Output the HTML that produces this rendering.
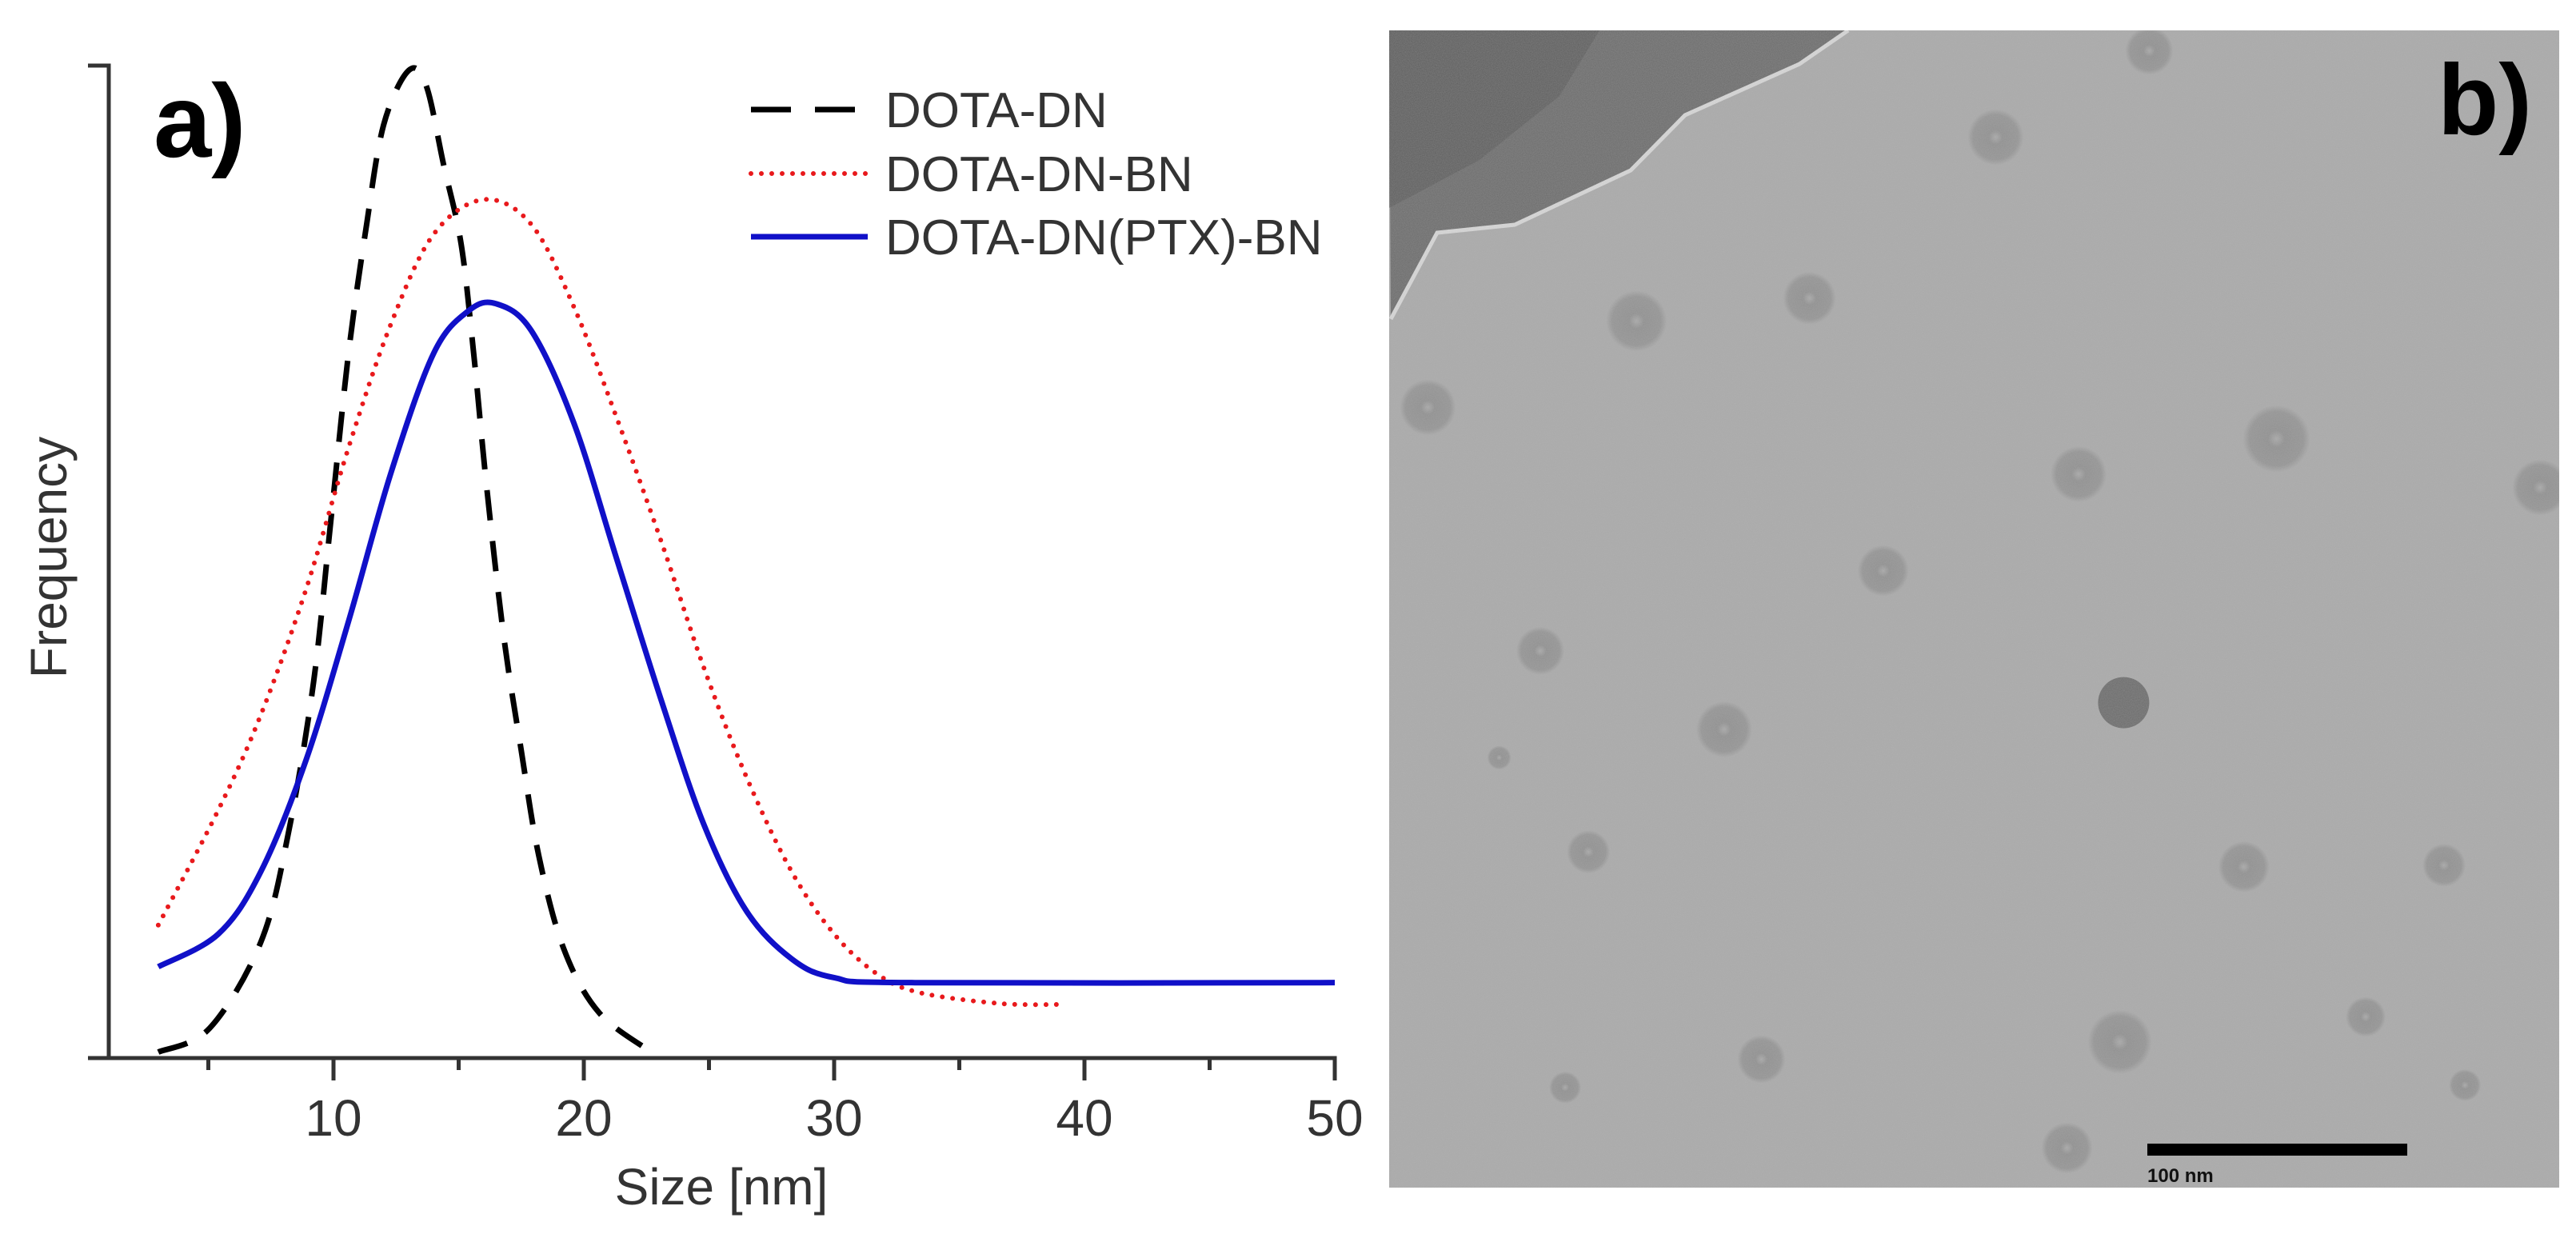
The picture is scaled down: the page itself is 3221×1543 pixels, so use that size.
<!DOCTYPE html>
<html><head><meta charset="utf-8"><style>
html,body{margin:0;padding:0;background:#fff;}
body{width:3221px;height:1538px;overflow:hidden;}
svg text{font-family:"Liberation Sans",sans-serif;}
</style></head><body>
<svg id="fig" width="3221" height="1538" viewBox="0 0 3221 1538" xmlns="http://www.w3.org/2000/svg">
<defs>
<filter id="noise" x="0" y="0" width="100%" height="100%">
<feTurbulence type="fractalNoise" baseFrequency="0.9" numOctaves="2" seed="3" result="t"/>
<feColorMatrix type="matrix" values="0 0 0 0 0.5  0 0 0 0 0.5  0 0 0 0 0.5  0 0 0 0.35 0"/>
</filter>
<radialGradient id="part" cx="0.5" cy="0.5" r="0.5">
<stop offset="0" stop-color="#a8a8a8"/><stop offset="0.25" stop-color="#8a8a8a"/><stop offset="0.8" stop-color="#8f8f8f"/><stop offset="1" stop-color="#a9a9a9"/>
</radialGradient>
<clipPath id="temclip"><rect x="1737" y="38" width="1463" height="1447"/></clipPath>
</defs>
<g id="chart"></g>
<g id="tem" clip-path="url(#temclip)">
<rect x="1737" y="38" width="1463" height="1447" fill="#a9a9a9"/>
<polygon points="1737,38 2311,38 2250,80 2107,144 2039,213 1894,281 1797,291 1739,399" fill="#6a6a6a"/>
<polygon points="1737,38 2000,38 1950,120 1850,200 1737,260" fill="#555" opacity="0.6"/>
<polyline points="2311,38 2250,80 2107,144 2039,213 1894,281 1797,291 1739,399" fill="none" stroke="#d8d8d8" stroke-width="5"/>
<g id="particles"></g>
<rect x="1737" y="38" width="1463" height="1447" filter="url(#noise)"/>
</g>
<rect x="2685" y="1430" width="325" height="15" fill="#000"/>
<text x="2685" y="1478" font-size="24" font-weight="bold" fill="#111">100 nm</text>
<text x="3048" y="168" font-size="125" font-weight="bold" fill="#000">b)</text>
</svg>
<script>
const ticks = [10, 20, 30, 40, 50];
const minorTicks = [5, 15, 25, 35, 45];
const dnX = [3, 5.05, 7.1, 8.2, 9.2, 9.9, 10.6, 11.3, 12.0, 13.0, 13.7, 14.4, 15.1, 15.6, 16.1, 16.8, 17.5, 18.2, 19.2, 20.6, 22.7];
const dnY = [0.006, 0.03, 0.117, 0.227, 0.378, 0.543, 0.71, 0.836, 0.94, 0.995, 0.98, 0.9, 0.82, 0.71, 0.58, 0.425, 0.31, 0.204, 0.11, 0.046, 0.006];
const bnX = [3.0, 5.4, 7.1, 8.9, 10.6, 12.3, 14.0, 16.0, 17.9, 19.6, 21.3, 23.1, 24.8, 26.5, 28.3, 30.0, 31.7, 33.4, 36.6, 39.0];
const bnY = [0.134, 0.25, 0.346, 0.472, 0.615, 0.74, 0.83, 0.865, 0.84, 0.757, 0.646, 0.52, 0.393, 0.283, 0.188, 0.125, 0.085, 0.066, 0.055, 0.054];
const ptxX = [3.0, 5.4, 7.1, 8.9, 10.6, 12.3, 14.0, 15.4, 16.5, 17.9, 19.6, 21.3, 23.1, 24.8, 26.5, 28.3, 30.0, 33.1, 50];
const ptxY = [0.092, 0.125, 0.188, 0.3, 0.44, 0.59, 0.71, 0.753, 0.76, 0.733, 0.64, 0.504, 0.36, 0.235, 0.148, 0.10, 0.081, 0.076, 0.076];
const seriesNames = ["DOTA-DN", "DOTA-DN-BN", "DOTA-DN(PTX)-BN"];

const NS = "http://www.w3.org/2000/svg";
const X0 = 104, PXU = 31.3, YB = 1323, YH = 1241;
const sx = v => X0 + v * PXU;
const sy = v => YB - v * YH;
const g = document.getElementById('chart');
function mk(tag, attrs, parent) {
  const e = document.createElementNS(NS, tag);
  for (const k in attrs) e.setAttribute(k, attrs[k]);
  (parent || g).appendChild(e);
  return e;
}
let e;
e = mk('path', {d: `M110 82 H136 V${YB} H${sx(50)} V${YB+27}`, fill: 'none', stroke: '#333', 'stroke-width': 5});


e = mk('line', {x1: 110, y1: YB, x2: 136, y2: YB, stroke: '#333', 'stroke-width': 5});


ticks.forEach(t => {
  const l = mk('line', {x1: sx(t), y1: YB, x2: sx(t), y2: YB + 28, stroke: '#333', 'stroke-width': 5});
  
  
  const tx = mk('text', {x: sx(t), y: YB + 97, 'font-size': 64, 'text-anchor': 'middle', fill: '#333'});
  tx.textContent = t;
  
  
});
minorTicks.forEach(t => {
  const l = mk('line', {x1: sx(t), y1: YB, x2: sx(t), y2: YB + 15, stroke: '#333', 'stroke-width': 5});
  
  
});
e = mk('text', {x: 902, y: 1506, 'font-size': 64, 'text-anchor': 'middle', fill: '#333'});
e.textContent = 'Size [nm]';


e = mk('text', {x: 0, y: 0, 'font-size': 64, 'text-anchor': 'middle', fill: '#333', transform: 'translate(83,697) rotate(-90)'});
e.textContent = 'Frequency';


e = mk('text', {x: 192, y: 196, 'font-size': 130, 'font-weight': 'bold', fill: '#000'});
e.textContent = 'a)';



function pathFrom(xs, ys) {
  const p = xs.map((x, i) => [sx(x), sy(ys[i])]);
  let d = `M${p[0][0]} ${p[0][1]}`;
  for (let i = 0; i < p.length - 1; i++) {
    const p0 = p[i - 1] || p[i], p1 = p[i], p2 = p[i + 1], p3 = p[i + 2] || p2;
    const c1 = [p1[0] + (p2[0] - p0[0]) / 6, p1[1] + (p2[1] - p0[1]) / 6];
    const c2 = [p2[0] - (p3[0] - p1[0]) / 6, p2[1] - (p3[1] - p1[1]) / 6];
    d += ` C${c1[0]} ${c1[1]} ${c2[0]} ${c2[1]} ${p2[0]} ${p2[1]}`;
  }
  return d;
}
const styles = [
  {stroke: '#000', w: 7, dash: '38 26', cap: 'butt'},
  {stroke: '#e8191c', w: 6, dash: '0 13', cap: 'round'},
  {stroke: '#1010c8', w: 7, dash: 'none', cap: 'butt'}
];
const datasets = [[dnX, dnY], [bnX, bnY], [ptxX, ptxY]];
const seriesIds = ['series-dota-dn', 'series-dota-dn-bn', 'series-dota-dn-ptx-bn'];
datasets.forEach((ds, i) => {
  const s = styles[i];
  const p = mk('path', {d: pathFrom(ds[0], ds[1]), fill: 'none', stroke: s.stroke, 'stroke-width': s.w, 'stroke-dasharray': s.dash, 'stroke-linecap': s.cap});
  
  
});
const legY = [137, 217, 296];
seriesNames.forEach((n, i) => {
  const s = styles[i];
  const l = mk('line', {x1: 939, y1: legY[i], x2: 1085, y2: legY[i], stroke: s.stroke, 'stroke-width': s.w, 'stroke-dasharray': i === 0 ? '50 30' : s.dash, 'stroke-linecap': s.cap});
  
  
  const t = mk('text', {x: 1107, y: legY[i] + 22, 'font-size': 62, fill: '#333'});
  t.textContent = n;
  
  
});

const pg = document.getElementById('particles');
const parts = [[1018,68,30],[820,178,35],[580,383,33],[357,412,38],[88,522,35],[1182,562,42],[927,607,35],[1522,624,35],[675,730,32],[233,832,30],[985,898,32],[470,932,35],[295,1088,27],[1140,1107,32],[1398,1105,27],[980,1330,40],[518,1352,30],[1297,1298,25],[265,1388,20],[912,1465,32],[1425,1385,20],[180,968,15]];
parts.forEach((q, i) => {
  const c = mk('circle', {cx: 1700 + q[0] / 1.031, cy: 38 + (q[1] - 42) * 0.982, r: q[2], fill: 'url(#part)', opacity: i === 10 ? 1 : 0.85}, pg);
  
  
  if (i === 10) c.setAttribute('fill', '#6a6a6a');
});
</script>
</body></html>
